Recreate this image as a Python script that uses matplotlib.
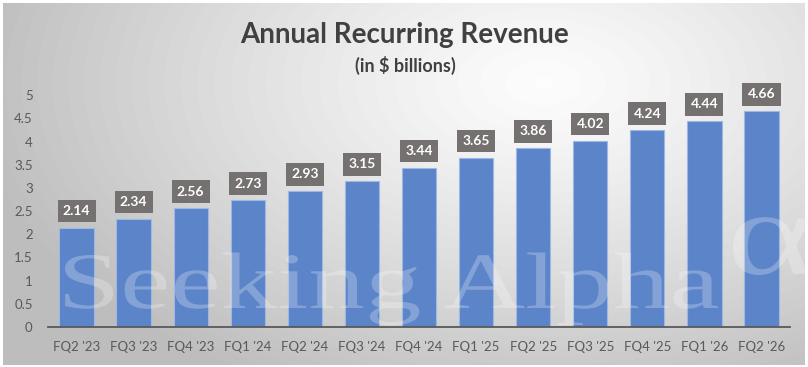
import numpy as np
import matplotlib.pyplot as plt
from matplotlib.textpath import TextPath
from matplotlib.patches import PathPatch
from matplotlib.font_manager import FontProperties
from matplotlib.transforms import Affine2D

quarters = ["FQ2 '23", "FQ3 '23", "FQ4 '23", "FQ1 '24", "FQ2 '24", "FQ3 '24", "FQ4 '24",
            "FQ1 '25", "FQ2 '25", "FQ3 '25", "FQ4 '25", "FQ1 '26", "FQ2 '26"]
arr = [2.14, 2.34, 2.56, 2.73, 2.93, 3.15, 3.44, 3.65, 3.86, 4.02, 4.24, 4.44, 4.66]
yticks = [0, 0.5, 1, 1.5, 2, 2.5, 3, 3.5, 4, 4.5, 5]

plt.rcParams['font.family'] = ['Lato', 'DejaVu Sans']

W, H = 808, 367
fig = plt.figure(figsize=(W / 100, H / 100), dpi=100)

# gradient background of the chart area
bg = fig.add_axes([3 / W, 2 / H, 802 / W, 362 / H], zorder=0)
yy, xx = np.mgrid[0:362, 0:802]
d = np.sqrt(((xx - 540) / 540.0) ** 2 + ((yy - 80) / 320.0) ** 2)
shade = np.clip(0.99 - 0.23 * d ** 1.2, 0.74, 1.0)
bg.imshow(shade, cmap='gray', vmin=0, vmax=1, aspect='auto')
bg.set_axis_off()

ax = fig.add_axes([48 / W, 40 / H, 742 / W, 255 / H], zorder=1)
ax.patch.set_alpha(0)
x = np.arange(len(arr))
ax.bar(x, arr, width=0.6, color='#5b84c9', edgecolor='#9db8e4', linewidth=0.8, zorder=2)
ax.set_xlim(-0.5, len(arr) - 0.5)
ax.set_ylim(0, 5.5)
ax.set_yticks(yticks)
ax.set_yticklabels([f"{t:g}" for t in yticks])
ax.set_xticks(x)
ax.set_xticklabels(quarters)
ax.tick_params(length=0, colors='#595959', labelsize=9.5)
ax.tick_params(axis='y', pad=11)
ax.tick_params(axis='x', pad=10)
for s in ['top', 'right', 'left']:
    ax.spines[s].set_visible(False)
ax.spines['bottom'].set_color('#595959')
ax.spines['bottom'].set_linewidth(1.3)
ax.spines['bottom'].set_zorder(4)

for xi, v in zip(x, arr):
    ax.annotate(f"{v:.2f}", (xi, v), xytext=(0, 12), textcoords='offset points',
                ha='center', va='center', color='white', fontsize=10, fontweight='bold',
                bbox=dict(boxstyle='square,pad=0.38', fc='#767171', ec='none'), zorder=5)

# watermark
fp = FontProperties(family='Liberation Serif')
tp = TextPath((0, 0), "Seeking Alpha", size=80, prop=fp)
ext = tp.get_extents()
sx = 653 / ext.width
tr = Affine2D().scale(sx, 1.0).translate(65 - ext.x0 * sx, H - 308)
patch = PathPatch(tr.transform_path(tp), fc='white', ec='none', alpha=0.25,
                  transform=None, zorder=3)
fig.patches.append(patch)
tp2 = TextPath((0, 0), "\u03b1", size=120, prop=fp)
e2 = tp2.get_extents()
patch2 = PathPatch(Affine2D().scale(1.4, 1.0).translate(733 - e2.x0 * 1.4, H - 275 - e2.y0).transform_path(tp2),
                   fc='white', ec='none', alpha=0.25, transform=None, zorder=3)
fig.patches.append(patch2)

fig.text(405 / W, 1 - 35 / H, "Annual Recurring Revenue", ha='center', va='center',
         fontsize=20, fontweight='bold', color='#404040')
fig.text(405 / W, 1 - 65 / H, "(in $ billions)", ha='center', va='center',
         fontsize=13, fontweight='bold', color='#404040')

fig.savefig('out.png', dpi=100)
